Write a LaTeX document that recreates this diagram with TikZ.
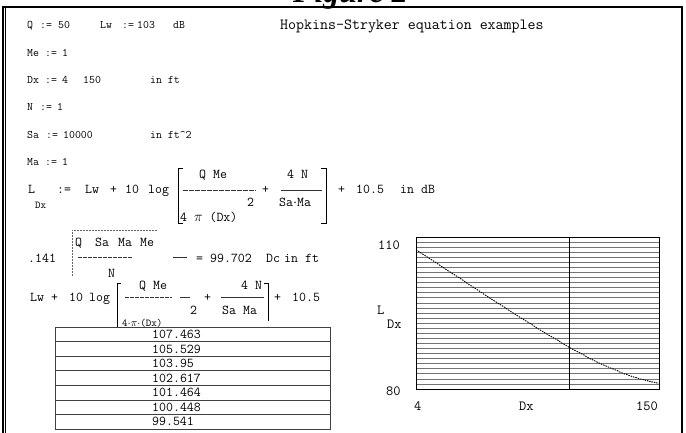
\documentclass[tikz,border=0pt]{standalone}
\usepackage{fontspec}
\newfontfamily\titlefont{Liberation Serif}
\begin{document}
\begin{tikzpicture}[x=1pt,y=-1pt,
  txt/.style={font=\ttfamily\fontsize{11.5}{13}\selectfont, inner sep=0pt, anchor=base west},
  eq/.style={font=\ttfamily\fontsize{13.5}{15}\selectfont, inner sep=0pt, anchor=base west},
  head/.style={font=\ttfamily\fontsize{15.5}{18}\selectfont, inner sep=0pt, anchor=base west},
  tab/.style={font=\ttfamily\fontsize{13.5}{15}\selectfont, inner sep=0pt, anchor=base west},
  lab/.style={font=\ttfamily\fontsize{14}{16}\selectfont, inner sep=0pt, anchor=base west},
  small/.style={font=\ttfamily\fontsize{10.5}{12}\selectfont, inner sep=0pt, anchor=base west},
  frame/.style={line width=1.6pt, black},
  fracline/.style={line width=0.6pt, black!80},
  brk/.style={line width=0.7pt, black},
  gridl/.style={line width=0.7pt, black!55},
  tline/.style={line width=0.6pt, black!75},
  sqr/.style={line width=0.6pt, black!60, dash pattern=on 2pt off 1pt}]
\useasboundingbox (0,0) rectangle (686,433);
\clip (0,0) rectangle (686,433);
% title, cut off at top
\node[font=\titlefont\bfseries\itshape\fontsize{32}{36}\selectfont, inner sep=0pt, anchor=base west] (title) at (293,3) {Figure 2};
% frame
\draw[frame] (3,433) -- (3,7) -- (682,7) -- (682,433);
\draw[line width=1pt] (5,7) -- (5,433);
% top rows
\node[txt] (q) at (27,29) {Q};
\node[txt] (qa) at (40,29) {:=};
\node[txt] (qv) at (58,29) {50};
\node[txt] (lw) at (100,29) {Lw};
\node[txt] (lwa) at (122,29) {:=};
\node[txt] (lwv) at (137,29) {103};
\node[txt] (lwu) at (173,29) {dB};
\node[head] (hd) at (280,30) {Hopkins-Stryker equation examples};
\node[txt] (me) at (27,57) {Me};
\node[txt] (mea) at (45,57) {:=};
\node[txt] (mev) at (62,57) {1};
\node[txt] (dx) at (27,84) {Dx};
\node[txt] (dxa) at (45,84) {:=};
\node[txt] (dxv) at (62,84) {4};
\node[txt] (dxb) at (83,84) {150};
\node[txt] (dxu) at (150,84) {in ft};
\node[txt] (n) at (27,111) {N};
\node[txt] (na) at (40,111) {:=};
\node[txt] (nv) at (57,111) {1};
\node[txt] (sa) at (27,139) {Sa};
\node[txt] (saa) at (46,139) {:=};
\node[txt] (sav) at (63,139) {10000};
\node[txt] (sau) at (150,139) {in ft\textasciicircum 2};
\node[txt] (ma) at (27,166) {Ma};
\node[txt] (maa) at (45,166) {:=};
\node[txt] (mav) at (62,166) {1};
% main equation
\node[eq] (l) at (28,194) {L};
\node[small] (lsub) at (35,208) {Dx};
\node[eq] (leqa) at (57,194) {:=};
\node[eq] (leqb) at (85,194) {Lw};
\node[eq] (leqc) at (110,194) {+};
\node[eq] (leqd) at (125,194) {10};
\node[eq] (leqe) at (148,194) {log};
\draw[brk] (183,168) -- (178,168) -- (178,223) -- (183,223);
\node[eq] (qme) at (199,179) {Q Me};
\draw[fracline, dash pattern=on 5pt off 1pt] (183,190) -- (256,190);
\node[eq] (two) at (247,207) {2};
\node[eq] (den) at (180,222) {4 $\pi$ (Dx)};
\node[eq] (plus) at (262,194) {+};
\node[eq] (fn) at (287,179) {4 N};
\draw[fracline] (281,190) -- (322,190);
\node[eq] (sm) at (279,207) {Sa$\cdot$Ma};
\draw[brk] (321,168) -- (326,168) -- (326,223) -- (321,223);
\node[eq] (adda) at (338,194) {+};
\node[eq] (addb) at (356,194) {10.5};
\node[eq] (addc) at (400,194) {in dB};
% critical distance
\node[eq] (c141) at (28,262) {.141};
\draw[sqr] (72,276) -- (72,230) -- (157,230);
\node[eq] (sq1) at (75,247) {Q};
\node[eq] (sq2) at (95,247) {Sa};
\node[eq] (sq3) at (118,247) {Ma};
\node[eq] (sq4) at (140,247) {Me};
\draw[fracline, dash pattern=on 4pt off 1pt] (78,257) -- (132,257);
\draw[fracline] (173,257) -- (187,257);
\node[eq] (nn) at (108,277) {N};
\node[eq] (res1) at (196,262) {=};
\node[eq] (res2) at (210,262) {99.702};
\node[eq] (res3) at (266,262) {Dc};
\node[eq] (res4) at (284,262) {in ft};
% second equation
\node[eq] (lw2) at (30,301) {Lw};
\node[eq] (lw2b) at (51,301) {+};
\node[eq] (lw2c) at (69,301) {10};
\node[eq] (lw2d) at (89,301) {log};
\draw[brk] (121,283) -- (117,283) -- (117,328);
\node[eq] (qme2) at (139,289) {Q Me};
\draw[fracline, dash pattern=on 4pt off 1pt] (125,297) -- (172,297);
\draw[fracline] (180,297) -- (190,297);
\node[eq] (two2) at (190,314) {2};
\node[eq] (plus2) at (204,301) {+};
\node[eq] (fn2) at (241,289) {4 N};
\draw[fracline] (221,297) -- (264,297);
\node[eq] (sm2) at (222,314) {Sa Ma};
\draw[brk] (264,283) -- (268,283) -- (268,321);
\node[eq] (add2a) at (274,301) {+};
\node[eq] (add2b) at (292,301) {10.5};
\node[small] (den2) at (122,326) {4$\cdot\pi\cdot$(Dx)};
% table
\draw[tline] (55,327) rectangle (330,429);
\foreach \i in {1,...,6} \draw[tline] (55,{327+\i*14.57}) -- (330,{327+\i*14.57});
\foreach \v [count=\i] in {107.463,105.529,103.95,102.617,101.464,100.448,99.541}
  \node[tab] (t\i) at (152,{327+\i*14.57-3}) {\v};
% plot
\foreach \i in {1,...,29} \draw[gridl] (416,{237+\i*152/30}) -- (659,{237+\i*152/30});
\draw[line width=0.8pt] (416,237) rectangle (659,389);
\draw[line width=0.8pt] (569,237) -- (569,389);
\draw[line width=0.9pt, dash pattern=on 1.5pt off 1pt] plot[domain=4:150, samples=120, smooth]
  ({416+243*(ln(\x)-ln(4))/(ln(150)-ln(4))}, {389-152/30*(33.5+10*log10((3.97887/\x)/\x+0.0004))});
\node[lab] (y110) at (378,250) {110};
\node[lab] (y80) at (386,395) {80};
\node[lab] (x4) at (414,410) {4};
\node[lab] (xdx) at (519,410) {Dx};
\node[lab] (x150) at (636,410) {150};
\node[lab] (ly) at (377,314) {L};
\node[lab] (lys) at (387,328) {Dx};
\end{tikzpicture}
\end{document}
